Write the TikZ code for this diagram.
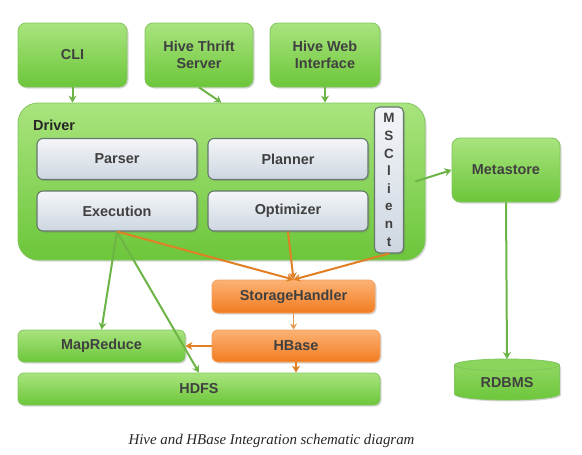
\documentclass[tikz,border=0pt]{standalone}
\usepackage{fontspec}
\setmainfont{Liberation Sans}
\newfontfamily\capfont{Liberation Serif}
\usetikzlibrary{arrows.meta,shadows}
\definecolor{gtop}{HTML}{A9E47E}
\definecolor{gbot}{HTML}{6CC63A}
\definecolor{gline}{HTML}{82C65E}
\definecolor{garrow}{HTML}{6DB446}
\definecolor{otop}{HTML}{FBB274}
\definecolor{obot}{HTML}{F27C20}
\definecolor{oline}{HTML}{F3A060}
\definecolor{oarrow}{HTML}{E07F24}
\definecolor{stop}{HTML}{F4F6F9}
\definecolor{sbot}{HTML}{CDD6E0}
\definecolor{sline}{HTML}{66776E}
\definecolor{txt}{HTML}{404040}
\tikzset{
  shd/.style={drop shadow={shadow xshift=1.5pt,shadow yshift=-1.5pt,opacity=0.25,fill=black!60}},
  gbox/.style={shd,draw=gline,line width=0.8pt,top color=gtop,bottom color=gbot,rounded corners=8pt,
    text=txt,font=\bfseries\fontsize{14.4}{16.5}\selectfont,align=center,inner sep=0pt},
  obox/.style={shd,draw=oline,line width=0.8pt,top color=otop,bottom color=obot,rounded corners=6pt,
    text=txt,font=\bfseries\fontsize{14.4}{16.5}\selectfont,align=center,inner sep=0pt},
  sbox/.style={shd,draw=sline,line width=1.1pt,top color=stop,bottom color=sbot,rounded corners=6pt,
    text=txt,font=\bfseries\fontsize{14.4}{16.5}\selectfont,align=center,inner sep=0pt},
  garr/.style={draw=garrow,line width=2pt,-{Stealth[length=7pt,width=8pt]}},
  oarr/.style={draw=oarrow,line width=2pt,-{Stealth[length=7pt,width=8pt]}},
  oarrthin/.style={draw=oarrow!80,line width=1.2pt,-{Stealth[length=6pt,width=7pt]}},
}
\begin{document}
\begin{tikzpicture}[x=1pt,y=-1pt]
\useasboundingbox[fill=white] (0,0) rectangle (582,455);
% top boxes
\node[gbox,minimum width=109,minimum height=64] (cli) at (72.5,55) {CLI};
\node[gbox,minimum width=108,minimum height=64] (thrift) at (199,55) {Hive Thrift\\Server};
\node[gbox,minimum width=110,minimum height=64] (web) at (325,55) {Hive Web\\Interface};
% driver
\node[gbox,rounded corners=20pt,minimum width=407,minimum height=157] (driver) at (221.5,181.5) {};
\node[anchor=west,text=black!85,font=\bfseries\fontsize{14.5}{16}\selectfont,inner sep=0pt] (drvlbl) at (33,125) {Driver};
\node[sbox,minimum width=160,minimum height=41] (parser) at (117,159) {Parser};
\node[sbox,minimum width=160,minimum height=41] (planner) at (288,159) {Planner};
\node[sbox,minimum width=160,minimum height=40] (exec) at (117,211) {Execution};
\node[sbox,minimum width=160,minimum height=40] (opt) at (288,211) {Optimizer};
\node[sbox,rounded corners=5pt,minimum width=29,minimum height=146,font=\bfseries\fontsize{13.5}{17.6}\selectfont] (ms) at (389,180) {M\\S\\C\\l\\i\\e\\n\\t};
% metastore
\node[gbox,minimum width=108,minimum height=64] (meta) at (506,170) {Metastore};
% lower
\node[obox,minimum width=163,minimum height=33] (sh) at (293.5,296.5) {StorageHandler};
\node[obox,minimum width=168,minimum height=32] (hbase) at (296,346) {HBase};
\node[gbox,rounded corners=6pt,minimum width=167,minimum height=32] (mr) at (101.5,346) {MapReduce};
\node[gbox,rounded corners=6pt,minimum width=362,minimum height=32] (hdfs) at (199,389) {HDFS};
% RDBMS cylinder
\fill[black!60,opacity=0.25] (456,366.5) -- (456,395.5) arc[start angle=180,end angle=0,x radius=52.5,y radius=6] -- (561,366.5) -- cycle;
\path[draw=gline,line width=0.8pt,top color=gtop!60!gbot,bottom color=gbot] (454.5,365) -- (454.5,394) arc[start angle=180,end angle=0,x radius=52.5,y radius=6] -- (559.5,365) -- cycle;
\path[draw=gline,line width=0.8pt,fill=gtop!50!gbot] (507,365) ellipse[x radius=52.5,y radius=6];
\node[text=txt,font=\bfseries\fontsize{14.4}{16.5}\selectfont,inner sep=0pt] (rdbms) at (507,383) {RDBMS};
\coordinate (rdbmstop) at (507,359);
% arrows
\draw[garr] (cli.south) -- (cli.south |- driver.north);
\draw[garr] (thrift.south) -- (driver.north);
\draw[garr] (web.south) -- (web.south |- driver.north);
\draw[garr] ([xshift=-10pt]driver.east) -- (meta.west);
\draw[garr] (meta.south) -- (rdbmstop);
\draw[garr] (exec.south) -- (mr.north);
\draw[garr] (exec.south) -- (hdfs.north);
\draw[oarr] (exec.south) -- (sh.north);
\draw[oarr] (opt.south) -- (sh.north);
\draw[oarr] (ms.south) -- (sh.north);
\draw[oarrthin] (sh.south) -- (sh.south |- hbase.north);
\draw[oarr] (hbase.west) -- (mr.east);
\draw[oarr] (hbase.south) -- (hbase.south |- hdfs.north);
% caption
\node[font=\capfont\itshape\fontsize{14.9}{17}\selectfont,text=black!85,inner sep=0pt] (caption) at (271.5,441) {Hive and HBase Integration schematic diagram};
\end{tikzpicture}
\end{document}
